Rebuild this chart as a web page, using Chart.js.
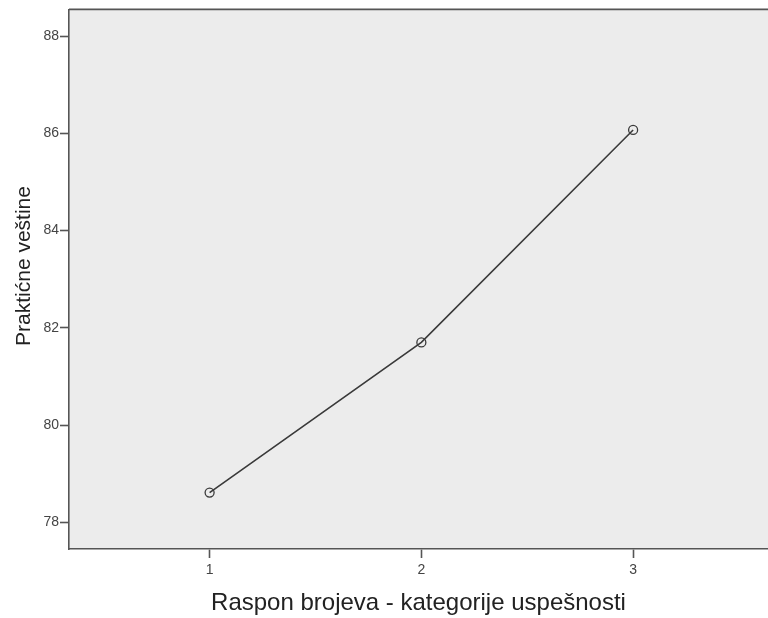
<!DOCTYPE html>
<html>
<head>
<meta charset="utf-8">
<script src="https://cdn.jsdelivr.net/npm/chart.js@4"></script>
<style>
  html, body { margin: 0; padding: 0; background: #fff; overflow: hidden; }
  #wrap { width: 768px; height: 618px; }
</style>
</head>
<body>
<div id="wrap"><canvas id="myLine" width="768" height="618"></canvas></div>
<script>
const ctx = document.getElementById("myLine").getContext("2d");

const categories = [1, 2, 3];
const values = [78.61, 81.70, 86.07];
const yTicks = [78, 80, 82, 84, 86, 88];
const xTitle = "Raspon brojeva - kategorije uspešnosti";
const yTitle = "Praktićne veštine";

const fontFamily = "Arial, 'Liberation Sans', sans-serif";

// grey plot background, top border and the y title (SPSS look)
const plotFrame = {
  id: "plotFrame",
  beforeDraw(chart) {
    const a = chart.chartArea;
    const c = chart.ctx;
    c.save();
    c.fillStyle = "#ececec";
    c.fillRect(a.left, a.top, a.right - a.left, a.bottom - a.top);
    c.restore();
  },
  afterDraw(chart) {
    const a = chart.chartArea;
    const c = chart.ctx;
    c.save();
    c.strokeStyle = "#555";
    c.lineWidth = 1.6;
    c.beginPath();
    c.moveTo(a.left, a.top);
    c.lineTo(a.right, a.top);
    c.stroke();

    c.translate(30, 266);
    c.rotate(-Math.PI / 2);
    c.fillStyle = "#222";
    c.font = "21px " + fontFamily;
    c.textAlign = "center";
    c.textBaseline = "alphabetic";
    c.fillText(yTitle, 0, 0);
    c.restore();
  },
};

const data = {
  datasets: [
    {
      data: categories.map((c, i) => ({ x: c, y: values[i] })),
      borderColor: "#3a3a3a",
      borderWidth: 1.6,
      pointRadius: 4.5,
      pointBorderWidth: 1.3,
      pointBorderColor: "#3a3a3a",
      pointBackgroundColor: "rgba(0,0,0,0)",
      tension: 0,
    },
  ],
};

const options = {
  responsive: false,
  animation: false,
  layout: { autoPadding: false, padding: { top: 7, right: 0, left: 0, bottom: 0 } },
  plugins: {
    legend: { display: false },
    tooltip: { enabled: false },
  },
  scales: {
    x: {
      type: "linear",
      min: 0.336,
      max: 3.637,
      afterBuildTicks: axis => { axis.ticks = categories.map(v => ({ value: v })); },
      afterFit: axis => {
        axis.height = 69;
        axis.paddingLeft = 0;
        axis.paddingRight = 0;
      },
      grid: { drawOnChartArea: false, tickLength: 9, tickColor: "#555", tickWidth: 1.6 },
      border: { color: "#555", width: 1.6 },
      ticks: { color: "#444", font: { family: fontFamily, size: 14 }, padding: 4 },
      title: {
        display: true,
        text: xTitle,
        color: "#222",
        font: { family: fontFamily, size: 24 },
        padding: { top: 0, bottom: 0 },
      },
    },
    y: {
      min: 77.45,
      max: 88.55,
      afterBuildTicks: axis => { axis.ticks = yTicks.map(v => ({ value: v })); },
      afterFit: axis => { axis.width = 69; },
      grid: { drawOnChartArea: false, tickLength: 9, tickColor: "#555", tickWidth: 1.6 },
      border: { color: "#555", width: 1.6 },
      ticks: { color: "#444", font: { family: fontFamily, size: 14 }, padding: 1 },
    },
  },
};

new Chart(ctx, { type: "line", data: data, options: options, plugins: [plotFrame] });
</script>
</body>
</html>
